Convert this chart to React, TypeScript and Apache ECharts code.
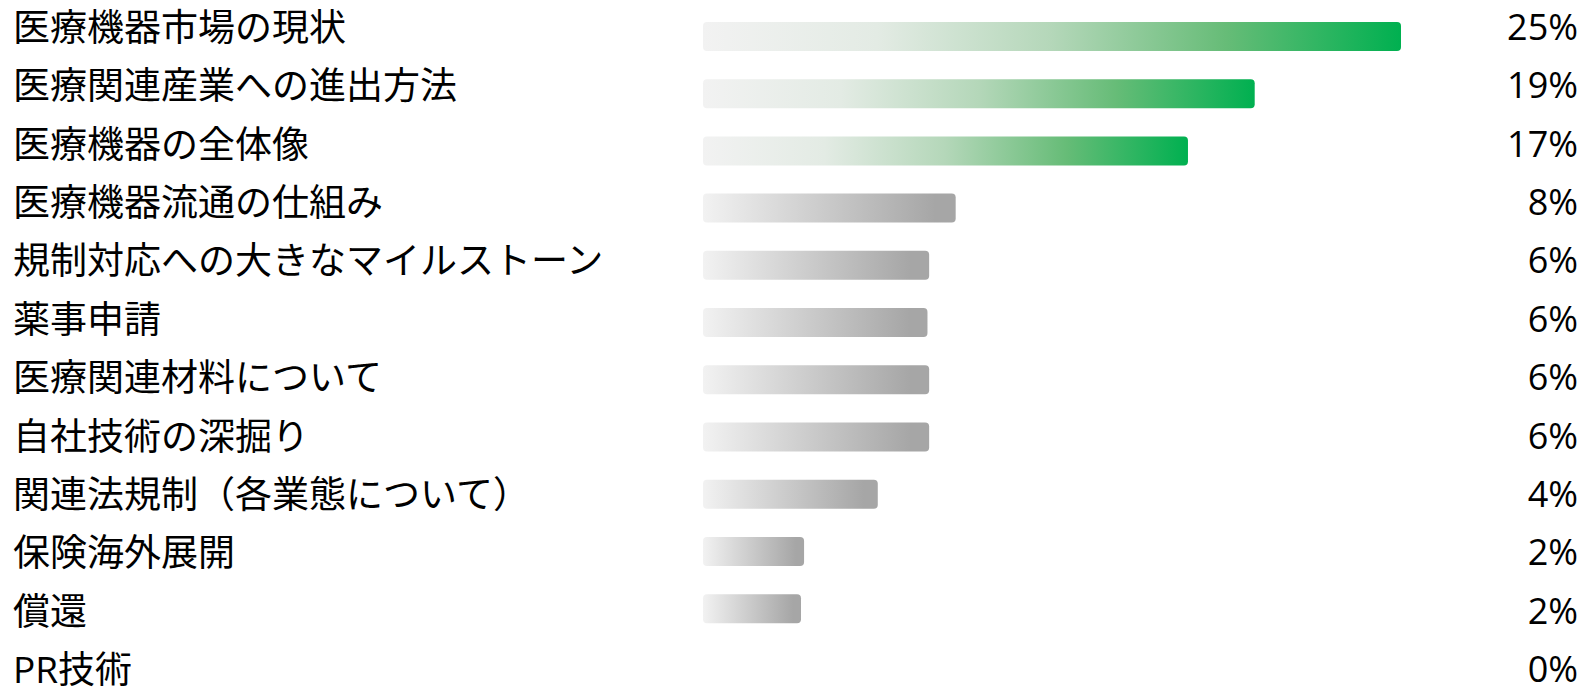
import React, { useEffect, useRef } from "react";
import * as echarts from "echarts";

const categories = [
  "医療機器市場の現状",
  "医療関連産業への進出方法",
  "医療機器の全体像",
  "医療機器流通の仕組み",
  "規制対応への大きなマイルストーン",
  "薬事申請",
  "医療関連材料について",
  "自社技術の深掘り",
  "関連法規制（各業態について）",
  "保険海外展開",
  "償還",
  "PR技術",
];

// displayed shares (%)
const shareLabels = [25, 19, 17, 8, 6, 6, 6, 6, 4, 2, 2, 0];

// bar lengths (in share units)
const barValues = [25, 19.76, 17.37, 9.05, 8.1, 8.04, 8.1, 8.1, 6.26, 3.62, 3.51, 0];

// first three are highlighted green
const highlighted = [true, true, true, false, false, false, false, false, false, false, false, false];

export default function App() {
  const ref = useRef<HTMLDivElement>(null);

  useEffect(() => {
    document.body.style.margin = "0";
    if (!ref.current) return;
    const chart = echarts.init(ref.current, null, { renderer: "svg" });

    const green = new echarts.graphic.LinearGradient(0, 0, 1, 0, [
      { offset: 0, color: "#f2f2f2" },
      { offset: 0.25, color: "#e3ebe4" },
      { offset: 0.5, color: "#b4d7b9" },
      { offset: 0.75, color: "#66bc77" },
      { offset: 1, color: "#00b050" },
    ]);
    const gray = new echarts.graphic.LinearGradient(0, 0, 1, 0, [
      { offset: 0, color: "#f2f2f2" },
      { offset: 0.92, color: "#a6a6a6" },
      { offset: 1, color: "#a6a6a6" },
    ]);

    const fontFamily = "'Open Sans', 'Noto Sans CJK JP', sans-serif";

    chart.setOption({
      animation: false,
      backgroundColor: "#ffffff",
      grid: [
        { left: 703, right: 183, top: 7.8, height: 686.8, containLabel: false, outerBoundsMode: "none" },
        { left: 703, right: 183, top: -3, height: 701, containLabel: false, outerBoundsMode: "none" },
      ],
      xAxis: [
        { type: "value", gridIndex: 0, min: 0, max: 25, show: false },
        { type: "value", gridIndex: 1, min: 0, max: 25, show: false },
      ],
      yAxis: [
        {
          type: "category",
          gridIndex: 0,
          data: categories,
          inverse: true,
          show: false,
        },
        {
          type: "category",
          gridIndex: 1,
          data: categories,
          inverse: true,
          position: "left",
          axisLine: { show: false },
          axisTick: { show: false },
          splitLine: { show: false },
          axisLabel: {
            align: "left",
            margin: 690,
            fontSize: 37,
            lineHeight: 32,
            color: "#000000",
            fontFamily,
          },
        },
        {
          type: "category",
          gridIndex: 1,
          data: shareLabels.map((v) => v + "%"),
          inverse: true,
          position: "right",
          axisLine: { show: false },
          axisTick: { show: false },
          splitLine: { show: false },
          axisLabel: {
            align: "right",
            margin: 177,
            fontSize: 36,
            lineHeight: 32,
            color: "#000000",
            fontFamily,
          },
        },
      ],
      series: [
        {
          type: "bar",
          xAxisIndex: 0,
          yAxisIndex: 0,
          barWidth: 29,
          data: barValues.map((v, i) => ({
            value: v,
            itemStyle: {
              color: highlighted[i] ? green : gray,
              borderRadius: 4,
            },
          })),
        },
      ],
    });

    return () => chart.dispose();
  }, []);

  return <div ref={ref} style={{ width: 1584, height: 689 }} />;
}
